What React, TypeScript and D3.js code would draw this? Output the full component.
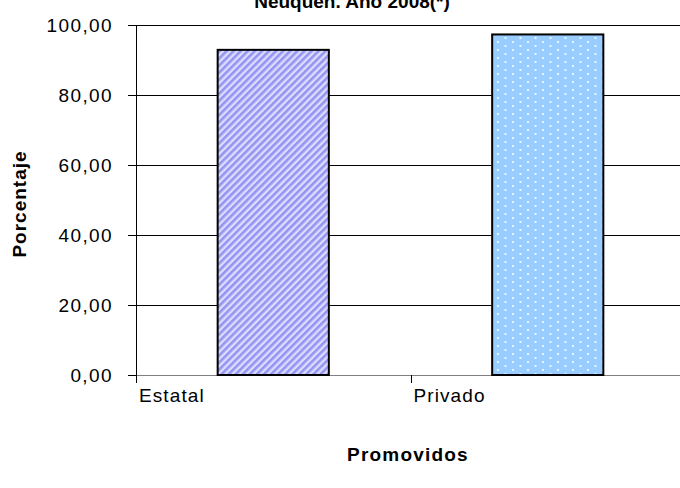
import React from "react";
import * as d3 from "d3";

const categories = ["Estatal", "Privado"];
const values = [92.9, 97.3];
const yTicks = [0, 20, 40, 60, 80, 100];
const titleText = "Neuquén. Año 2008(*)";
const yTitle = "Porcentaje";
const xTitle = "Promovidos";

export default function App() {
  const W = 680, H = 488;
  const left = 136, right = 685, top = 25, bottom = 375;
  const x = d3.scaleBand().domain(categories).range([left, right]).paddingInner(0).paddingOuter(0);
  const y = d3.scaleLinear().domain([0, 100]).range([bottom, top]);
  const bw = x.bandwidth() * 0.405;
  const fmt = (v: number) => d3.format(".2f")(v).replace(".", ",");
  const font = "Liberation Sans, Arial, sans-serif";
  return (
    <svg width={W} height={H} style={{ position: "absolute", left: 0, top: 0, background: "#fff" }}>
      <defs>
        <pattern id="stripes" patternUnits="userSpaceOnUse" width="5" height="5" patternTransform="rotate(45)">
          <rect width="5" height="5" fill="#dcdcff" />
          <rect width="2.6" height="5" fill="#9494f2" />
        </pattern>
        <pattern id="dots" patternUnits="userSpaceOnUse" width="15" height="8">
          <rect width="15" height="8" fill="#99ccff" />
          <rect x="2" y="1" width="2" height="2" fill="#e8f4ff" />
          <rect x="9.5" y="5" width="2" height="2" fill="#e8f4ff" />
        </pattern>
      </defs>
      <text x={352} y={8} textAnchor="middle" fontFamily={font} fontWeight="bold" fontSize={19}>{titleText}</text>
      {yTicks.map((t) => (
        <g key={t}>
          <line x1={left} x2={W} y1={y(t) + 0.5} y2={y(t) + 0.5} stroke={t === 0 ? "#808080" : "#000"} strokeWidth={1} shapeRendering="crispEdges" />
          <line x1={left - 8} x2={left} y1={y(t) + 0.5} y2={y(t) + 0.5} stroke="#000" shapeRendering="crispEdges" />
          <text x={left - 23} y={y(t) + 7} textAnchor="end" fontFamily={font} fontSize={19} letterSpacing={1.4}>{fmt(t)}</text>
        </g>
      ))}
      <line x1={left + 0.5} x2={left + 0.5} y1={top} y2={bottom + 8} stroke="#000" shapeRendering="crispEdges" />
      {[0, 1, 2].map((i) => (
        <line key={i} x1={left + i * x.step() + 0.5} x2={left + i * x.step() + 0.5} y1={bottom} y2={bottom + 8} stroke="#000" shapeRendering="crispEdges" />
      ))}
      {categories.map((c, i) => {
        const cx = (x(c) as number) + x.bandwidth() / 2;
        return (
          <g key={c}>
            <rect x={cx - bw / 2} y={y(values[i])} width={bw} height={bottom - y(values[i])}
              fill={i === 0 ? "url(#stripes)" : "url(#dots)"} stroke="#000" strokeWidth={2} />
            <text x={(x(c) as number) + 3} y={bottom + 27} fontFamily={font} fontSize={19} letterSpacing={1.1}>{c}</text>
          </g>
        );
      })}
      <text transform={`translate(26,${204}) rotate(-90)`} textAnchor="middle" fontFamily={font} fontWeight="bold" fontSize={19} letterSpacing={1}>{yTitle}</text>
      <text x={408} y={461} textAnchor="middle" fontFamily={font} fontWeight="bold" fontSize={19} letterSpacing={1.2}>{xTitle}</text>
    </svg>
  );
}
